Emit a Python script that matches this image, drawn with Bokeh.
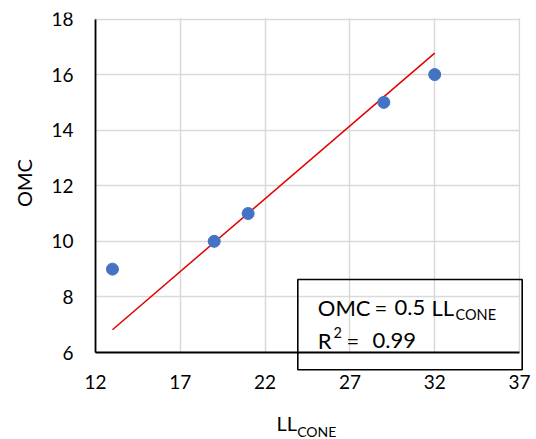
from bokeh.plotting import figure
from bokeh.models import Range1d, FixedTicker, Label, BoxAnnotation
from bokeh.embed import file_html
from bokeh.resources import INLINE
import math

# data
ll_cone = [13, 19, 21, 29, 32]
omc = [9, 10, 11, 15, 16]
trend_x = [13, 32]
trend_y = [6.82, 16.77]
x_ticks = [12, 17, 22, 27, 32, 37]
y_ticks = [6, 8, 10, 12, 14, 16, 18]

FONT = "Lato"

# pixel geometry (page px)
X0, X1 = 12, 37
Y0, Y1 = 6, 18
PX_X0, PX_X1 = 95, 519
PX_Y1, PX_Y0 = 18.5, 352
sx = (PX_X1 - PX_X0) / (X1 - X0)
sy = (PX_Y0 - PX_Y1) / (Y1 - Y0)

FRAME_LEFT, FRAME_RIGHT = 0, 536
FRAME_TOP, FRAME_BOTTOM = 12, 439

def xd(px):
    return X0 + (px - PX_X0) / sx

def yd(py):
    return Y0 + (PX_Y0 - py) / sy

p = figure(width=FRAME_RIGHT, height=FRAME_BOTTOM,
           frame_width=FRAME_RIGHT - FRAME_LEFT, frame_height=FRAME_BOTTOM - FRAME_TOP,
           x_range=Range1d(xd(FRAME_LEFT), xd(FRAME_RIGHT)),
           y_range=Range1d(yd(FRAME_BOTTOM), yd(FRAME_TOP)),
           output_backend="svg", toolbar_location=None,
           min_border_left=0, min_border_right=0, min_border_top=FRAME_TOP,
           min_border_bottom=0)

p.background_fill_color = "white"
p.border_fill_color = "white"
p.outline_line_color = None

xa, ya = p.xaxis[0], p.yaxis[0]
for ax in (xa, ya):
    ax.axis_line_color = "black"
    ax.axis_line_width = 1.8
    ax.major_tick_line_color = None
    ax.minor_tick_line_color = None
    ax.major_tick_in = 0
    ax.major_tick_out = 0
    ax.major_label_text_font = FONT
    ax.major_label_text_font_size = "19px"
    ax.major_label_text_color = "black"
    ax.major_label_standoff = 22

xa.ticker = FixedTicker(ticks=x_ticks)
ya.ticker = FixedTicker(ticks=y_ticks)
xa.fixed_location = Y0
ya.fixed_location = X0
xa.bounds = (X0, X1)
ya.bounds = (Y0, Y1)

p.xgrid.ticker = FixedTicker(ticks=x_ticks)
p.ygrid.ticker = FixedTicker(ticks=y_ticks)
for g in (p.xgrid[0], p.ygrid[0]):
    g.grid_line_color = "#d9d9d9"
    g.grid_line_width = 1.5

# masks that trim the grid to the 12-37 x 6-18 area
for kw in (dict(top=Y0 - 0.02), dict(bottom=Y1 + 0.03),
           dict(left=X1 + 0.05), dict(right=X0 - 0.05)):
    p.add_layout(BoxAnnotation(fill_color="white", fill_alpha=1.0, line_color=None,
                               level="underlay", **kw))

p.line(trend_x, trend_y, line_color="#e00000", line_width=1.5)
p.scatter(ll_cone, omc, size=12, fill_color="#4472c4", line_color="#4472c4")

def txt(px, py_mid, s, size, **kw):
    p.add_layout(Label(x=xd(px), y=yd(py_mid), text=s, text_baseline="middle",
                       text_font=FONT, text_font_size=f"{size}px", text_color="black", **kw))

# y axis title
txt(23.3, 182.5, "OMC", 20, angle=math.pi / 2, text_align="center")

# x axis title with subscript
txt(276, 422.8, "LL", 20)
txt(296.7, 431.3, "CONE", 14)

# equation box
p.add_layout(BoxAnnotation(left=xd(297.3), right=xd(521.7), top=yd(279), bottom=yd(369.3),
                           fill_alpha=0.0, line_color="black", line_alpha=1.0, line_width=1.6))
txt(317.3, 306.6, "OMC", 22)
txt(374, 306.6, "=", 22)
txt(394, 306.6, "0.5", 22)
txt(431, 306.6, "LL", 22)
txt(455, 314, "CONE", 14.5)
txt(317.3, 340, "R", 22)
txt(333, 331.5, "2", 14.5)
txt(346, 340, "=", 22)
txt(372, 340, "0.99", 22)

open("out.html", "w").write(file_html(p, INLINE))
